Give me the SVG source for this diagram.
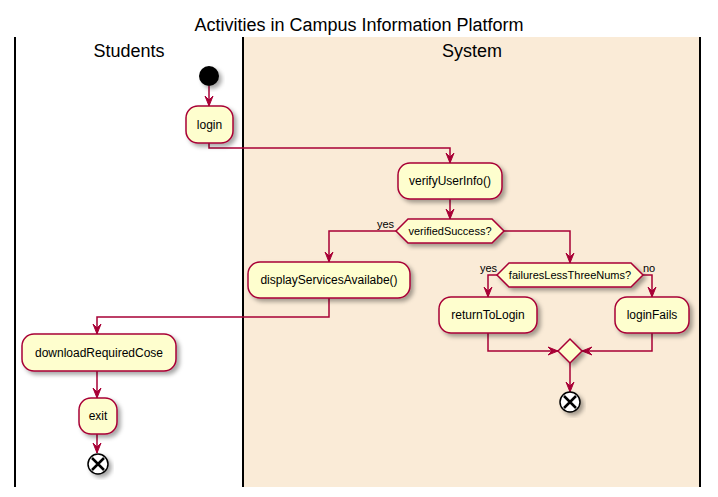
<svg xmlns="http://www.w3.org/2000/svg" width="718" height="497" viewBox="0 0 718 497">
<style>
.t{font-family:"Liberation Sans",Arial,sans-serif;fill:#000}
.title{font-size:18px}
.lane{font-size:18px}
.a{font-size:12px}
.d{font-size:11px}
.box{fill:#FEFECE;stroke:#A80036;stroke-width:1.5;filter:url(#sh)}
.c{fill:none;stroke:#A80036;stroke-width:1.5}
.ln{stroke:#000;stroke-width:2}
</style>
<defs>
<filter id="sh" x="-30%" y="-30%" width="160%" height="160%">
<feDropShadow dx="3" dy="3" stdDeviation="2" flood-color="#000" flood-opacity="0.35"/>
</filter>
<marker id="ar" viewBox="0 0 10 10" refX="10" refY="5" markerWidth="10" markerHeight="10" markerUnits="userSpaceOnUse" orient="auto">
<path d="M0,1 L10,5 L0,9 L4,5 Z" fill="#A80036" stroke="#A80036" stroke-width="1"/>
</marker>
</defs>
<rect width="718" height="497" fill="#fff"/>
<text class="t title" x="359" y="31" text-anchor="middle">Activities in Campus Information Platform</text>
<g id="lanes">
<rect x="243" y="37" width="457" height="450" fill="#FAEBD7"/>
<line class="ln" x1="15" y1="37" x2="15" y2="487"/>
<line class="ln" x1="243" y1="37" x2="243" y2="487"/>
<line class="ln" x1="700" y1="37" x2="700" y2="487"/>
<text class="t lane" x="129" y="57" text-anchor="middle">Students</text>
<text class="t lane" x="472" y="57" text-anchor="middle">System</text>
</g>
<g id="connectors">
<path class="c" d="M209,86 V106" marker-end="url(#ar)"/>
<path class="c" d="M209,143 V148 H450 V163" marker-end="url(#ar)"/>
<path class="c" d="M450,199 V219" marker-end="url(#ar)"/>
<path class="c" d="M396,231 H329 V262" marker-end="url(#ar)"/>
<path class="c" d="M504,231 H570 V263" marker-end="url(#ar)"/>
<path class="c" d="M497,275 H488 V297" marker-end="url(#ar)"/>
<path class="c" d="M643,275 H652 V297" marker-end="url(#ar)"/>
<path class="c" d="M488,333 V351 H558" marker-end="url(#ar)"/>
<path class="c" d="M652,333 V351 H582" marker-end="url(#ar)"/>
<path class="c" d="M570,363 V392" marker-end="url(#ar)"/>
<path class="c" d="M329,298 V317 H97 V334" marker-end="url(#ar)"/>
<path class="c" d="M97,371 V398" marker-end="url(#ar)"/>
<path class="c" d="M97,434 V453" marker-end="url(#ar)"/>
<text class="t d" x="394" y="228" text-anchor="end">yes</text>
<text class="t d" x="497" y="272" text-anchor="end">yes</text>
<text class="t d" x="643" y="272">no</text>
</g>
<g id="start"><circle cx="209" cy="76" r="10" fill="#000" filter="url(#sh)"/></g>
<g id="login"><rect class="box" x="186" y="106" width="47" height="37" rx="12"/><text class="t a" x="209.5" y="129" text-anchor="middle">login</text></g>
<g id="verify"><rect class="box" x="398" y="163" width="104" height="36" rx="12"/><text class="t a" x="450" y="185" text-anchor="middle">verifyUserInfo()</text></g>
<g id="dec1"><polygon class="box" points="396,231 408,219 492,219 504,231 492,243 408,243"/><text class="t d" x="450" y="235" text-anchor="middle">verifiedSuccess?</text></g>
<g id="display"><rect class="box" x="248" y="262" width="162" height="36" rx="12"/><text class="t a" x="329" y="284" text-anchor="middle">displayServicesAvailabe()</text></g>
<g id="dec2"><polygon class="box" points="497,275 509,263 631,263 643,275 631,287 509,287"/><text class="t d" x="570" y="279" text-anchor="middle">failuresLessThreeNums?</text></g>
<g id="returnToLogin"><rect class="box" x="439" y="297" width="98" height="36" rx="12"/><text class="t a" x="488" y="319" text-anchor="middle">returnToLogin</text></g>
<g id="loginFails"><rect class="box" x="615" y="297" width="74" height="36" rx="12"/><text class="t a" x="652" y="319" text-anchor="middle">loginFails</text></g>
<g id="merge"><polygon class="box" points="558,351 570,339 582,351 570,363"/></g>
<g id="end2"><circle cx="570" cy="402" r="10" fill="#fff" stroke="#000" stroke-width="1.5" filter="url(#sh)"/><path d="M564,396 L576,408 M576,396 L564,408" stroke="#000" stroke-width="2.5"/></g>
<g id="download"><rect class="box" x="22" y="334" width="154" height="37" rx="12"/><text class="t a" x="99" y="357" text-anchor="middle">downloadRequiredCose</text></g>
<g id="exit"><rect class="box" x="79" y="398" width="38" height="36" rx="12"/><text class="t a" x="98" y="420" text-anchor="middle">exit</text></g>
<g id="end1"><circle cx="98" cy="464" r="10" fill="#fff" stroke="#000" stroke-width="1.5" filter="url(#sh)"/><path d="M92,458 L104,470 M104,458 L92,470" stroke="#000" stroke-width="2.5"/></g>
</svg>
